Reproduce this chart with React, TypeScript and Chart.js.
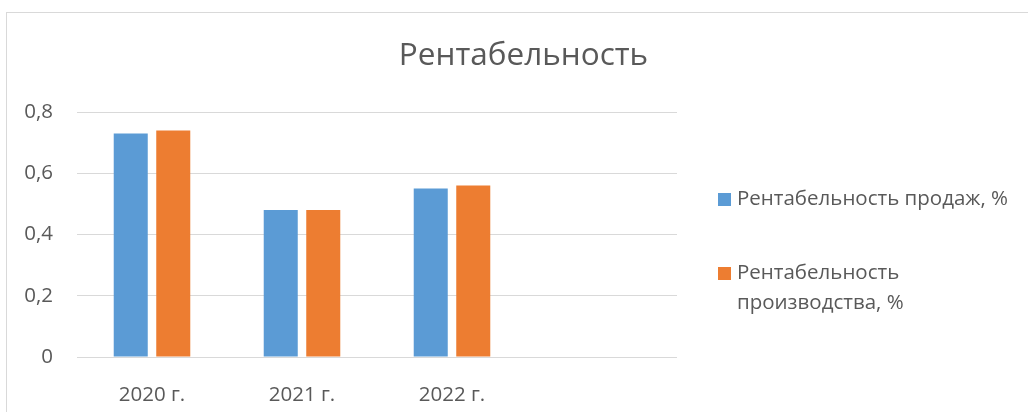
import React, { useEffect, useRef } from 'react';
import { Chart, registerables } from 'chart.js';

Chart.register(...registerables);

const chartTitle = 'Рентабельность';
const categories = ['2020 г.', '2021 г.', '2022 г.', ''];
const salesProfitability = [0.73, 0.48, 0.55];
const productionProfitability = [0.74, 0.48, 0.56];
const seriesNames = ['Рентабельность продаж, %', 'Рентабельность производства, %'];
const legendLines = [['Рентабельность продаж, %'], ['Рентабельность', 'производства, %']];
const seriesColors = ['#5b9bd5', '#ed7d31'];
const yTicks = [0, 0.2, 0.4, 0.6, 0.8];
const yTickLabels = ['0', '0,2', '0,4', '0,6', '0,8'];

const FONT = "'Open Sans', 'DejaVu Sans', sans-serif";
const TEXT = '#595959';
const GRID = '#d9d9d9';

// legend drawn beside the plot, in the room kept free by the empty right-hand box
const sideLegend = {
  id: 'sideLegend',
  afterDraw(chart: any) {
    const { ctx, chartArea } = chart;
    const boxSize = 13;
    const boxLeft = chartArea.right + 41;
    const textLeft = boxLeft + boxSize + 6;
    const firstCenter = chartArea.top + 87.5;
    const itemGap = 43.5;
    const lineHeight = 30;
    ctx.save();
    ctx.font = `20.5px ${FONT}`;
    ctx.textBaseline = 'middle';
    ctx.textAlign = 'left';
    let y = firstCenter;
    chart.data.datasets.forEach((ds: any, i: number) => {
      ctx.fillStyle = ds.backgroundColor;
      ctx.fillRect(boxLeft, Math.round(y - boxSize / 2), boxSize, boxSize);
      ctx.fillStyle = TEXT;
      const lines = legendLines[i] || [ds.label];
      lines.forEach((line: string, j: number) => {
        ctx.fillText(line, textLeft, y + j * lineHeight);
      });
      y += lines.length * lineHeight + itemGap;
    });
    ctx.restore();
  },
};

export default function App() {
  const ref = useRef<HTMLCanvasElement | null>(null);

  useEffect(() => {
    if (!ref.current) return;
    const chart = new Chart(ref.current, {
      type: 'bar',
      data: {
        labels: categories,
        datasets: [
          {
            label: seriesNames[0],
            data: salesProfitability,
            backgroundColor: seriesColors[0],
            borderWidth: 0,
            categoryPercentage: 0.567,
            barPercentage: 0.8,
            yAxisID: 'y',
          },
          {
            label: seriesNames[1],
            data: productionProfitability,
            backgroundColor: seriesColors[1],
            borderWidth: 0,
            categoryPercentage: 0.567,
            barPercentage: 0.8,
            yAxisID: 'y',
          },
        ],
      },
      options: {
        responsive: false,
        animation: false,
        events: [],
        layout: { padding: { left: 21, right: 2, top: 0, bottom: 0 } },
        plugins: {
          tooltip: { enabled: false },
          legend: { display: false },
          title: {
            display: true,
            text: chartTitle,
            color: TEXT,
            font: { family: FONT, size: 31.5, weight: 'normal', lineHeight: 1.2 },
            padding: { top: 37, bottom: 37.2 },
          },
        },
        scales: {
          x: {
            grid: { display: false },
            border: { display: false },
            ticks: {
              color: TEXT,
              font: { family: FONT, size: 20.5 },
              padding: 18,
              maxRotation: 0,
              autoSkip: false,
            },
            afterFit: (s: any) => {
              s.height = 55;
            },
          },
          y: {
            min: 0,
            max: 0.8,
            grid: { color: GRID, lineWidth: 1, drawTicks: false },
            border: { display: false },
            ticks: {
              stepSize: 0.2,
              color: TEXT,
              font: { family: FONT, size: 20.5 },
              padding: 24,
              callback: (v: any) => {
                const i = yTicks.findIndex((t) => Math.abs(t - Number(v)) < 1e-9);
                return i >= 0 ? yTickLabels[i] : '';
              },
            },
            afterFit: (s: any) => {
              s.width = 56;
            },
          },
          // empty right-hand box that keeps room for the legend
          y2: {
            type: 'linear',
            position: 'right',
            grid: { display: false },
            border: { display: false },
            ticks: { display: false },
            afterFit: (s: any) => {
              s.width = 349;
            },
          },
        },
      },
      plugins: [sideLegend],
    });
    return () => chart.destroy();
  }, []);

  return (
    <div
      style={{
        position: 'absolute',
        left: 0,
        top: 0,
        width: 1028,
        height: 412,
        overflow: 'hidden',
        background: '#ffffff',
      }}
    >
      <div
        style={{
          position: 'absolute',
          left: 6,
          top: 12,
          width: 1100,
          height: 500,
          borderTop: `1px solid ${GRID}`,
          borderLeft: `1px solid ${GRID}`,
        }}
      />
      <canvas
        ref={ref}
        width={1028}
        height={412}
        style={{ position: 'absolute', left: 0, top: 0, display: 'block' }}
      />
    </div>
  );
}
